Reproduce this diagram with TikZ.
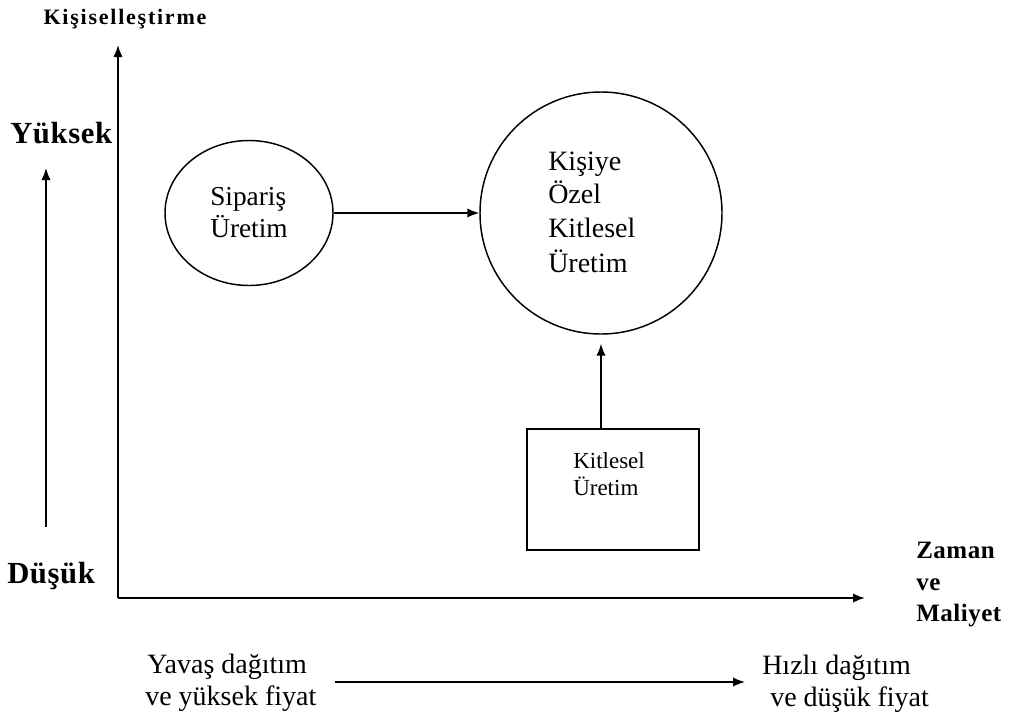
\documentclass[tikz,border=0pt]{standalone}
\usepackage{fontspec}
\setmainfont{Liberation Serif}
\usetikzlibrary{arrows.meta,shapes.geometric,calc}
\tikzset{
  arr/.style={line width=1.2pt, -{Latex[length=9pt,width=7pt]}},
  axisline/.style={line width=1.4pt, -{Latex[length=9pt,width=7pt]}},
  ellnode/.style={draw, line width=1.1pt, ellipse, inner sep=0pt, minimum width=0.75pt*168, minimum height=0.75pt*145},
  circnode/.style={draw, line width=1.1pt, circle, inner sep=0pt, minimum size=0.75pt*242},
  boxnode/.style={draw, line width=1.1pt, rectangle, inner sep=0pt, minimum width=0.75pt*172, minimum height=0.75pt*121},
  lbl/.style={anchor=base west, inner sep=0pt},
  bigbold/.style={lbl, font=\fontsize{23pt}{26pt}\selectfont\bfseries\addfontfeature{LetterSpace=2}},
  midbold/.style={lbl, font=\fontsize{18.75pt}{22pt}\selectfont\bfseries\addfontfeature{LetterSpace=2}},
  intext/.style={lbl, font=\fontsize{21pt}{25pt}\selectfont},
  ovaltext/.style={lbl, font=\fontsize{20.5pt}{25pt}\selectfont},
  smalltext/.style={lbl, font=\fontsize{17.25pt}{20pt}\selectfont},
  bottext/.style={lbl, font=\fontsize{21pt}{25pt}\selectfont},
}
\begin{document}
\begin{tikzpicture}[x=0.75pt, y=-0.75pt]
\useasboundingbox (0,0) rectangle (1011,722);
% title
\node[anchor=base, inner sep=0pt, font=\fontsize{16.5pt}{20pt}\selectfont\bfseries\addfontfeature{LetterSpace=8}] (title) at (125,24) {Kişiselleştirme};
% axes
\coordinate (O) at (118,598);
\coordinate (ytop) at (118,45);
\coordinate (xend) at (865,598);
\draw[axisline] (O) -- (ytop);
\draw[axisline] (O) -- (xend);
% left scale
\node[bigbold] (yuk) at (10,143) {Yüksek};
\node[bigbold] (dus) at (7,583) {Düşük};
\coordinate (ls) at (46,527);
\coordinate (le) at (46,168);
\draw[axisline, line width=1.2pt] (ls) -- (le);
% right axis label
\node[midbold] (zam) at (916,558) {Zaman};
\node[midbold] (ve) at (916,590) {ve};
\node[midbold] (mal) at (916,621) {Maliyet};
% shapes
\node[ellnode] (sip) at (249,213) {};
\node[ovaltext] (sipt1) at (210,205) {Sipariş};
\node[ovaltext] (sipt2) at (210,237) {Üretim};
\node[circnode] (kis) at (601,213) {};
\node[intext] (k1) at (548,170) {Kişiye};
\node[intext] (k2) at (548,203) {Özel};
\node[intext] (k3) at (548,237) {Kitlesel};
\node[intext] (k4) at (548,272) {Üretim};
\node[boxnode] (kit) at (613,489.5) {};
\node[smalltext] (kt1) at (573,468) {Kitlesel};
\node[smalltext] (kt2) at (573,495) {Üretim};
% connectors
\draw[arr] (sip.east) -- (kis.west);
\draw[arr, shorten >=6.75pt] (kit.north -| kis.south) -- (kis.south);
% bottom
\node[bottext] (yv1) at (147,673) {Yavaş dağıtım};
\node[bottext] (yv2) at (145,705) {ve yüksek fiyat};
\node[bottext] (hz1) at (762,674) {Hızlı dağıtım};
\node[bottext] (hz2) at (770,706) {ve düşük fiyat};
\coordinate (b1) at (335,682);
\coordinate (b2) at (745,682);
\draw[arr] (b1) -- (b2);
\end{tikzpicture}
\end{document}
